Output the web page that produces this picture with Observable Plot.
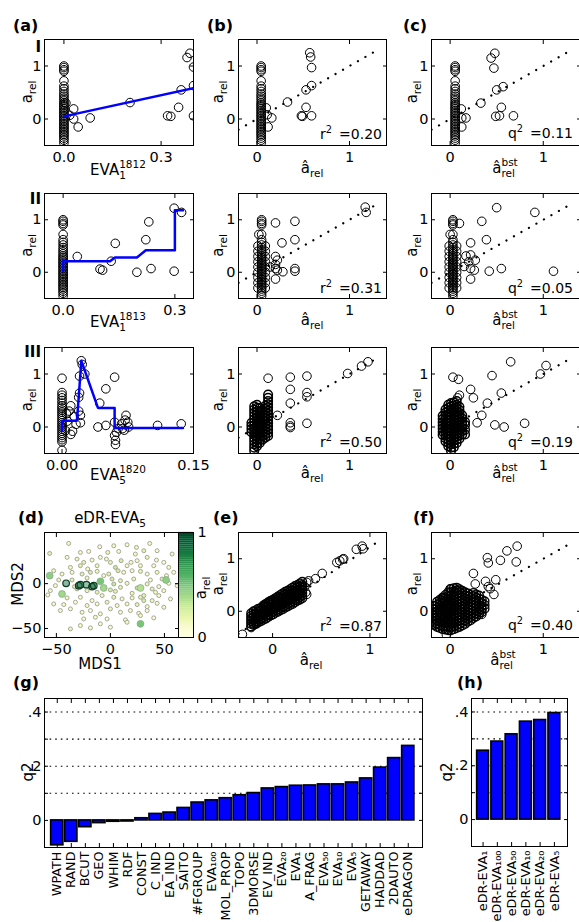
<!DOCTYPE html>
<html><head><meta charset="utf-8">
<script src="https://cdn.jsdelivr.net/npm/d3@7"></script>
<script src="https://cdn.jsdelivr.net/npm/@observablehq/plot@0.6"></script>
<style>
body{margin:0;background:#fff;}
#fig{position:relative;width:579px;height:922px;overflow:hidden;background:#fff;font-family:"DejaVu Sans",sans-serif;}
</style></head><body><div id="fig"></div>
<script>
// ---------------- DATA ----------------
const stackY = [1.0,0.97,0.93,0.9,0.72,0.62,0.57,0.52,0.47,0.43,0.39,0.35,0.31,0.28,0.25,0.22,0.19,0.16,0.13,0.1,0.07,0.04,0.01,-0.02,-0.05,-0.08,-0.11,-0.14,-0.17,-0.2,-0.23,-0.26,-0.29,-0.32,-0.36,-0.4,-0.45];
const stackX = {aI:0.0, aII:0.0, bI:0.045, cI:0.054, bII:0.05, cII:0.03};
const wideY = [0.5,0.4,0.3,0.2,0.1,0.0,-0.1,-0.2,-0.3];
// row I
const aIpts = [[0.006,0.30],[0.018,0.07],[0.03,0.19],[0.03,0.0],[0.044,-0.15],[0.081,0.02],[0.204,0.31],[0.32,0.06],[0.33,0.05],[0.362,0.55],[0.354,0.22],[0.38,1.16],[0.389,1.24],[0.40,0.98],[0.40,0.63],[0.40,0.06]];
const aIfit = [[0,0.05],[0.405,0.59]];
const bIpts = [[0.10,0.21],[0.11,0.08],[0.16,0.02],[0.12,-0.15],[0.33,0.32],[0.53,0.22],[0.48,0.06],[0.49,0.05],[0.59,0.06],[0.53,0.55],[0.59,0.63],[0.59,0.97],[0.57,1.25],[0.58,1.17]];
const cIpts = [[0.12,0.19],[0.125,0.02],[0.17,0.02],[0.125,-0.15],[0.33,0.3],[0.49,0.05],[0.53,0.06],[0.55,0.22],[0.68,0.06],[0.5,0.55],[0.57,0.61],[0.47,0.96],[0.44,1.15],[0.48,1.24]];
// row II
const aIIpts = [[0.038,0.30],[0.099,0.06],[0.106,0.04],[0.129,0.21],[0.14,0.55],[0.198,0.0],[0.222,0.62],[0.23,0.96],[0.236,0.07],[0.298,1.22],[0.318,1.14],[0.298,0.02]];
const aIIfit = [[0,0.02],[0,0.21],[0.126,0.21],[0.139,0.28],[0.198,0.28],[0.222,0.42],[0.30,0.42],[0.30,1.18],[0.322,1.18]];
const bIIpts = [[0.02,0.72],[0.14,0.1],[0.2,0.94],[0.27,0.56],[0.2,0.3],[0.22,0.23],[0.2,0.15],[0.2,0.07],[0.22,0.04],[0.2,-0.13],[0.28,0.01],[0.41,0.97],[0.41,0.62],[0.41,0.07],[0.41,0.02],[1.17,1.24],[1.18,1.14]];
const cIIpts = [[0.0,0.72],[0.1,0.93],[0.34,0.97],[0.5,1.23],[0.91,1.14],[0.39,0.62],[0.22,0.56],[0.17,0.31],[0.22,0.33],[0.27,0.23],[0.2,0.2],[0.22,0.07],[0.26,0.04],[0.15,0.11],[0.22,-0.13],[0.42,0.02],[0.55,0.07],[1.11,0.02]];
// row III
const aIIIpts = [[0,0.92],[0,0.65],[0,0.6],[0,0.55],[0,0.5],[0,0.45],[0,0.4],[0,0.36],[0,0.32],[0,0.28],[0,0.24],[0,0.2],[0,0.16],[0,0.12],[0,0.08],[0,0.04],[0,0.0],[0,-0.04],[0,-0.08],[0,-0.12],[0,-0.16],[0,-0.2],[0,-0.24],[0,-0.28],[0,-0.44],
 [0.008,0.3],[0.006,0.11],[0.012,-0.08],[0.01,-0.14],[0.014,0.2],[0.016,0.05],[0.019,0.3],[0.021,0.08],[0.004,-0.07],[0.021,0.22],[0.01,0.4],[0.005,0.25],
 [0.019,0.56],[0.02,0.64],[0.02,0.96],[0.022,1.25],[0.023,1.18],[0.026,1.0],[0.043,0.45],[0.05,0.72],[0.06,0.94],[0.041,0.0],[0.05,0.03],
 [0.06,0.09],[0.062,-0.1],[0.06,-0.16],[0.061,-0.25],[0.061,-0.33],[0.068,0.06],[0.072,0.13],[0.073,0.22],[0.075,0.09],[0.069,-0.03],[0.064,-0.03],[0.071,-0.06],[0.076,0.0],
 [0.109,0.03],[0.136,0.06]];
const aIIIfit = [[0,-0.07],[0,0.12],[0.017,0.12],[0.019,0.55],[0.022,1.25],[0.041,0.36],[0.06,0.36],[0.06,-0.02],[0.138,-0.02]];
const bIIIcols = [
 [-0.06,[-0.1,-0.04,0.02,0.08]],
 [-0.03,[-0.45,-0.39,-0.33,-0.27,-0.21,-0.15,-0.09,-0.03,0.03,0.09,0.15,0.21,0.27,0.33,0.39]],
 [0.0,[-0.36,-0.3,-0.24,-0.18,-0.12,-0.06,0.0,0.06,0.12,0.18,0.24,0.3,0.36,0.42]],
 [0.03,[-0.3,-0.24,-0.18,-0.12,-0.06,0.0,0.06,0.12,0.18,0.24,0.3,0.36]],
 [0.06,[-0.24,-0.18,-0.12,-0.06,0.0,0.06,0.12,0.18,0.24,0.3]],
 [0.09,[-0.2,-0.14,-0.08,-0.02,0.04,0.1,0.16,0.22,0.28,0.34,0.4]],
 [0.12,[-0.17,-0.11,-0.05,0.01,0.07,0.13,0.19,0.25,0.31,0.37,0.43,0.49,0.55,0.61]]];
const bIIIpts = [[0.12,0.92],[0.22,0.22],[0.36,0.94],[0.36,0.71],[0.36,0.45],[0.36,0.08],[0.36,0.02],[0.36,-0.01],[0.54,0.96],[0.54,0.65],[0.54,0.57],[0.54,0.07],[0.98,1.01],[1.13,1.15],[1.2,1.23]];
const cIIIcols = [
 [-0.08,[-0.15,-0.09,-0.03,0.03,0.09,0.15,0.21]],
 [-0.05,[-0.27,-0.21,-0.15,-0.09,-0.03,0.03,0.09,0.15,0.21,0.27,0.33]],
 [-0.02,[-0.36,-0.3,-0.24,-0.18,-0.12,-0.06,0.0,0.06,0.12,0.18,0.24,0.3,0.36,0.42]],
 [0.01,[-0.45,-0.39,-0.33,-0.27,-0.21,-0.15,-0.09,-0.03,0.03,0.09,0.15,0.21,0.27,0.33,0.39,0.45]],
 [0.04,[-0.38,-0.32,-0.26,-0.2,-0.14,-0.08,-0.02,0.04,0.1,0.16,0.22,0.28,0.34,0.4,0.46]],
 [0.07,[-0.3,-0.24,-0.18,-0.12,-0.06,0.0,0.06,0.12,0.18,0.24,0.3,0.36,0.42,0.49]],
 [0.10,[-0.22,-0.16,-0.1,-0.04,0.02,0.08,0.14,0.2,0.26,0.32,0.38]],
 [0.13,[-0.14,-0.08,-0.02,0.04,0.1,0.16,0.22]],
 [0.16,[-0.14,-0.05,0.04,0.1]]];
const cIIIpts = [[0.03,0.94],[0.09,0.9],[0.1,0.6],[0.08,0.55],[0.22,0.71],[0.25,0.55],[0.34,0.22],[0.29,0.08],[0.4,0.45],[0.45,0.97],[0.55,0.64],[0.48,0.04],[0.58,0.0],[0.8,0.07],[0.65,1.23],[0.97,1.0],[1.03,1.16]];
const refLine = [-0.2, 1.3];
// panel d: MDS1, MDS2, a_rel
const dLow = [
[-38.6,44.8,0.1],[-9.9,41.1,0.05],[3.1,42.2,0.12],[15.4,43.3,0.08],[24.1,40.4,0.15],[36.4,44.8,0.1],
[-56.2,33.7,0.2],[-27.8,34.8,0.1],[-20.1,35.9,0.05],[-2.5,34.8,0.15],[7.7,35.9,0.08],[23.1,33.0,0.12],[30.9,36.7,0.2],[43.2,36.7,0.06],[57.1,33.0,0.1],
[-40.1,29.3,0.08],[-30.9,27.4,0.15],[-24.7,23.7,0.2],[-17.0,26.3,0.1],[-9.3,29.3,0.05],[-3.7,27.4,0.12],[0,23.7,0.18],[9.9,25.6,0.25],[19.1,23.7,0.1],[24.7,25.6,0.08],[34.0,29.3,0.15],[42.6,26.3,0.1],[49.4,23.7,0.05],
[-37.0,18.1,0.12],[-27.8,20.0,0.2],[-21.0,16.3,0.08],[-12.3,20.0,0.15],[4.6,18.1,0.3],[15.4,20.0,0.1],[27.8,20.0,0.12],[40.1,20.0,0.06],[54.0,18.1,0.1],
[-52.5,14.4,0.15],[-44.8,10.7,0.1],[-35.5,12.6,0.08],[-26.2,10.7,0.2],[-18.5,12.6,0.25],[-12.3,13.7,0.15],[-6.2,8.9,0.1],[-1.5,10.7,0.2],[7.1,14.4,0.25],[12.3,12.6,0.12],[20.1,14.4,0.1],[27.8,13.7,0.18],[34.0,10.7,0.08],[43.2,12.6,0.12],[51.9,8.9,0.1],[58.6,12.6,0.05],
[-47.8,4.1,0.15],[-35.5,4.1,0.2],[-21.6,6.3,0.12],[1.5,5.2,0.25],[9.3,3.3,0.2],[21.6,5.2,0.15],[37.0,4.1,0.1],[47.8,5.2,0.2],
[-50.9,-2.2,0.1],[-33.3,-3.3,0.25],[3.1,-0.4,0.3],[9.3,-4.1,0.2],[15.4,0.4,0.12],[24.7,-4.8,0.25],[34.0,-0.4,0.15],[38.6,-5.9,0.2],[44.8,-3.3,0.1],[54.0,0.4,0.08],[61.7,-2.2,0.1],
[-55.6,-7.8,0.12],[-30.9,-5.9,0.2],[-21.6,-7.8,0.15],[-12.3,-9.6,0.2],[0,-7.0,0.25],[4.6,-8.5,0.2],[20.1,-10.7,0.15],[30.9,-13.3,0.2],[41.7,-9.6,0.12],[49.4,-7.8,0.1],
[-58.0,-12.6,0.08],[-40.1,-15.9,0.12],[-27.8,-15.2,0.1],[-17.0,-18.9,0.08],[-7.7,-13.3,0.15],[3.1,-15.2,0.2],[10.8,-17.0,0.1],[20.1,-15.9,0.12],[27.8,-15.2,0.2],[30.9,-18.9,0.25],[38.6,-18.9,0.15],[44.8,-13.3,0.1],[55.6,-17.0,0.08],
[-52.5,-22.6,0.1],[-43.2,-23.3,0.12],[-32.4,-20.7,0.05],[-21.6,-24.4,0.1],[-12.3,-22.6,0.08],[-3.1,-20.7,0.15],[6.2,-24.4,0.1],[15.4,-22.6,0.12],[24.7,-23.3,0.2],[34.0,-25.6,0.1],[43.2,-21.9,0.08],
[-46.3,-30.0,0.1],[-37.0,-28.1,0.08],[-26.2,-31.9,0.12],[-18.5,-30.0,0.05],[-9.3,-33.7,0.1],[0,-28.1,0.15],[9.3,-31.9,0.08],[18.5,-30.0,0.1],[26.2,-33.0,0.12],[34.0,-30.0,0.06],[49.4,-26.3,0.1],
[-24.7,-39.3,0.08],[-13.9,-37.4,0.1],[-3.1,-39.3,0.05],[13.9,-40.4,0.1],[27.8,-35.6,0.12],[40.1,-38.1,0.06],
[-27.8,-46.7,0.1],[-9.3,-44.8,0.08],[0,-48.5,0.05],[15.4,-43.0,0.1],[-37.0,-50.4,0.15],[-18.5,-49.3,0.08]];
const dMid = [[-56.2,8.9,0.45],[-9.3,2.6,0.5],[51.5,4.1,0.45],[-6.2,-4.8,0.4],[27.8,-4.8,0.35],[-44.8,-11.5,0.4],[27.8,-44.8,0.5]];
const dHigh = [[-41.0,0.4,0.9],[-29.3,-2.2,0.95],[-27.8,-1.1,0.85],[-22.2,-1.1,0.8],[-17.0,-3.3,0.95],[-15.4,-2.2,0.9]];
// panel e
const eCols = [
 [-0.22,[-0.29,-0.24,-0.19,-0.14,-0.09,-0.04]],
 [-0.195,[-0.26,-0.21,-0.16,-0.11,-0.06,0.0]],
 [-0.17,[-0.24,-0.19,-0.14,-0.09,-0.04,0.02]],
 [-0.145,[-0.21,-0.16,-0.11,-0.06,-0.01,0.05]],
 [-0.12,[-0.19,-0.14,-0.09,-0.04,0.01,0.06]],
 [-0.095,[-0.16,-0.11,-0.06,-0.01,0.04,0.09,0.11]],
 [-0.07,[-0.14,-0.09,-0.04,0.01,0.06,0.11,0.14]],
 [-0.045,[-0.11,-0.06,-0.01,0.04,0.09,0.14,0.17]],
 [-0.02,[-0.08,-0.03,0.02,0.07,0.12,0.17,0.2]],
 [0.005,[-0.06,-0.01,0.04,0.09,0.14,0.19,0.22]],
 [0.03,[-0.03,0.02,0.07,0.12,0.17,0.22,0.25]],
 [0.055,[-0.01,0.04,0.09,0.14,0.19,0.24,0.28]],
 [0.08,[0.02,0.07,0.12,0.17,0.22,0.27,0.31]],
 [0.105,[0.04,0.09,0.14,0.19,0.24,0.29,0.34]],
 [0.13,[0.07,0.12,0.17,0.22,0.27,0.32,0.37]],
 [0.155,[0.09,0.14,0.19,0.24,0.29,0.34,0.39]],
 [0.18,[0.12,0.17,0.22,0.27,0.32,0.37,0.42]],
 [0.205,[0.14,0.19,0.24,0.29,0.34,0.39,0.45]],
 [0.23,[0.17,0.22,0.27,0.32,0.37,0.42,0.48]],
 [0.255,[0.2,0.25,0.3,0.35,0.4,0.45,0.5]],
 [0.28,[0.22,0.27,0.32,0.37,0.42,0.47,0.53]],
 [0.305,[0.25,0.3,0.35,0.4,0.45,0.5,0.56]]];
const ePts = [[-0.31,-0.44],[-0.22,-0.31],[-0.19,-0.25],[-0.16,-0.22],[0.33,0.47],[0.35,0.55],[0.37,0.58],[0.34,0.36],[0.35,0.32],
 [0.44,0.62],[0.51,0.72],[0.66,0.93],[0.69,0.96],[0.72,0.99],[0.73,1.0],[0.86,1.18],[0.92,1.24],[0.93,1.19]];
const eFit = [[-0.35,-0.43],[1.07,1.31]];
// panel f
const fCols = [
 [-0.17,[-0.26,-0.2,-0.14,-0.08,-0.02,0.04,0.1]],
 [-0.14,[-0.3,-0.24,-0.18,-0.12,-0.06,0.0,0.06,0.12,0.18]],
 [-0.11,[-0.32,-0.26,-0.2,-0.14,-0.08,-0.02,0.04,0.1,0.16,0.22]],
 [-0.08,[-0.34,-0.28,-0.22,-0.16,-0.1,-0.04,0.02,0.08,0.14,0.2,0.26]],
 [-0.05,[-0.35,-0.29,-0.23,-0.17,-0.11,-0.05,0.01,0.07,0.13,0.19,0.25,0.31]],
 [-0.02,[-0.36,-0.3,-0.24,-0.18,-0.12,-0.06,0.0,0.06,0.12,0.18,0.24,0.3,0.36]],
 [0.01,[-0.36,-0.3,-0.24,-0.18,-0.12,-0.06,0.0,0.06,0.12,0.18,0.24,0.3,0.36,0.42]],
 [0.04,[-0.34,-0.28,-0.22,-0.16,-0.1,-0.04,0.02,0.08,0.14,0.2,0.26,0.32,0.38,0.44]],
 [0.07,[-0.32,-0.26,-0.2,-0.14,-0.08,-0.02,0.04,0.1,0.16,0.22,0.28,0.34,0.4,0.45]],
 [0.10,[-0.3,-0.24,-0.18,-0.12,-0.06,0.0,0.06,0.12,0.18,0.24,0.3,0.36,0.42]],
 [0.13,[-0.27,-0.21,-0.15,-0.09,-0.03,0.03,0.09,0.15,0.21,0.27,0.33,0.39]],
 [0.16,[-0.24,-0.18,-0.12,-0.06,0.0,0.06,0.12,0.18,0.24,0.3,0.36]],
 [0.19,[-0.2,-0.14,-0.08,-0.02,0.04,0.1,0.16,0.22,0.28,0.34]],
 [0.22,[-0.17,-0.11,-0.05,0.01,0.07,0.13,0.19,0.25,0.31]],
 [0.25,[-0.13,-0.07,-0.01,0.05,0.11,0.17,0.23,0.29,0.35]],
 [0.28,[-0.1,-0.04,0.02,0.08,0.14,0.2,0.26,0.32]],
 [0.31,[-0.06,0.0,0.06,0.12,0.18,0.24,0.3]],
 [0.34,[-0.02,0.04,0.1,0.16,0.22]],
 [0.37,[0.05,0.12,0.19]]];
const fPts = [[-0.04,-0.45],[-0.16,-0.26],[-0.17,0.1],[-0.07,0.26],[0,0.43],[0.1,0.4],[0.25,0.72],[0.27,0.52],[0.38,0.57],[0.41,0.47],[0.43,0.43],
 [0.4,1.02],[0.41,0.92],[0.49,0.6],[0.47,0.32],[0.54,0.97],[0.61,1.15],[0.71,0.94],[0.72,1.24],[0.32,-0.02],[0.34,-0.06]];
// panel g / h
const gNames = ["WPATH","RAND","BCUT","GEO","WHIM","RDF","CONST","C_IND","EA_IND","SAITO","#FGROUP","EVA₁₀₀","MOL_PROP","TOPO","3DMORSE","EV_IND","EVA₂₀","EVA₁","A_FRAG","EVA₅₀","EVA₁₀","EVA₅","GETAWAY","HADDAD","2DAUTO","eDRAGON"];
const gQ2 = [-0.092,-0.079,-0.025,-0.01,-0.005,-0.004,0.008,0.024,0.029,0.046,0.066,0.074,0.082,0.093,0.101,0.118,0.123,0.128,0.129,0.133,0.133,0.14,0.155,0.195,0.23,0.275];
const hNames = ["eDR-EVA₁","eDR-EVA₁₀₀","eDR-EVA₅₀","eDR-EVA₁₀","eDR-EVA₂₀","eDR-EVA₅"];
const hQ2 = [0.256,0.29,0.317,0.364,0.37,0.396];
const q2Ticks = [0,0.1,0.2,0.3,0.4];
const q2LabelTicks = [0,0.2,0.4];
const q2Labels = ["0",".2",".4"];
const q2Grid = [0.1,0.2,0.3,0.4];

// ---------------- DRAWING ----------------
const FONT = "DejaVu Sans";
const FS = 14.5;
const fig = document.getElementById("fig");
const ML = 50, MR = 12, MT = 10, MB = 40;
function place(svg, left, top) {
  svg.style.position = "absolute"; svg.style.left = left + "px"; svg.style.top = top + "px";
  svg.style.overflow = "visible"; svg.style.background = "transparent"; svg.style.maxWidth = "none";
  fig.appendChild(svg);
}
const blank = () => "";
function axes(xt, yt, xf, yf) {
  return [
    Plot.frame({stroke: "black", strokeWidth: 1}),
    Plot.axisX(xt, {anchor: "bottom", tickSize: -4, tickFormat: blank, label: null}),
    Plot.axisX(xt, {anchor: "top", tickSize: -4, tickFormat: blank, label: null}),
    Plot.axisY(yt, {anchor: "left", tickSize: -4, tickFormat: blank, label: null}),
    Plot.axisY(yt, {anchor: "right", tickSize: -4, tickFormat: blank, label: null}),
    Plot.text(xt, {x: d => d, frameAnchor: "bottom", lineAnchor: "top", dy: 6, text: xf, fontSize: FS, fontFamily: FONT, fill: "black"}),
    Plot.text(yt, {y: d => d, frameAnchor: "left", textAnchor: "end", lineAnchor: "middle", dx: -3, text: yf, fontSize: FS, fontFamily: FONT, fill: "black"})
  ];
}
function panel(o) {
  const svg = Plot.plot({
    width: o.fw + ML + MR, height: o.fh + MT + MB,
    marginLeft: ML, marginRight: MR, marginTop: MT, marginBottom: MB,
    style: `font-family:'${FONT}';color:black;background:transparent;overflow:visible;`,
    x: o.x, y: o.y, color: o.color,
    marks: [...o.marks, ...axes(o.xt, o.yt, o.xf, o.yf)]
  });
  place(svg, o.fx - ML, o.fy - MT);
  return svg;
}
const circ = (data, sw = 1) => Plot.dot(data, {x: d => d[0], y: d => d[1], r: 4.3, stroke: "black", strokeWidth: sw, fill: "none", clip: true});
const col = (x, ys) => ys.map(y => [x, y]);
const cols = (c) => c.flatMap(([x, ys]) => col(x, ys));
const fitLine = (data) => Plot.line(data, {x: d => d[0], y: d => d[1], stroke: "#0000ff", strokeWidth: 2.5, clip: true});
const dotted = (data) => Plot.line(data, {x: d => d[0], y: d => d[1], stroke: "black", strokeWidth: 2.2, strokeDasharray: "0.1,8.5", strokeLinecap: "round", clip: true});
const refPts = refLine.map(v => [v, v]);
const fmt1 = d => d.toFixed(1), fmt2 = d => d.toFixed(2), fmtI = d => String(d);
const yA = {domain: [-0.5, 1.5]};
const xBC = {domain: [-0.2, 1.4]};

const rows = [{fy: 39, fh: 106}, {fy: 193, fh: 105}, {fy: 347, fh: 106}];
const colA = {fx: 44, fw: 149}, colB = {fx: 238, fw: 148}, colC = {fx: 431, fw: 149};

// Row I
panel({...colA, ...rows[0], x: {domain: [-0.06, 0.4]}, y: yA, xt: [0, 0.3], yt: [0, 1], xf: fmt1, yf: fmtI,
  marks: [circ(col(stackX.aI, stackY)), circ(aIpts), fitLine(aIfit)]});
panel({...colB, ...rows[0], x: xBC, y: yA, xt: [0, 1], yt: [0, 1], xf: fmtI, yf: fmtI,
  marks: [dotted(refPts), circ(col(stackX.bI, stackY)), circ(bIpts)]});
panel({...colC, ...rows[0], x: xBC, y: yA, xt: [0, 1], yt: [0, 1], xf: fmtI, yf: fmtI,
  marks: [dotted(refPts), circ(col(stackX.cI, stackY)), circ(cIpts)]});
// Row II
panel({...colA, ...rows[1], x: {domain: [-0.05, 0.35]}, y: yA, xt: [0, 0.3], yt: [0, 1], xf: fmt1, yf: fmtI,
  marks: [circ(col(stackX.aII, stackY)), circ(aIIpts), fitLine(aIIfit)]});
panel({...colB, ...rows[1], x: xBC, y: yA, xt: [0, 1], yt: [0, 1], xf: fmtI, yf: fmtI,
  marks: [dotted(refPts), circ(col(stackX.bII, stackY)), circ(col(0.01, wideY)), circ(col(0.09, wideY)), circ(bIIpts)]});
panel({...colC, ...rows[1], x: xBC, y: yA, xt: [0, 1], yt: [0, 1], xf: fmtI, yf: fmtI,
  marks: [dotted(refPts), circ(col(stackX.cII, stackY)), circ(col(-0.01, wideY)), circ(col(0.07, wideY)), circ(cIIpts)]});
// Row III
panel({...colA, ...rows[2], x: {domain: [-0.02, 0.15]}, y: yA, xt: [0, 0.15], yt: [0, 1], xf: fmt2, yf: fmtI,
  marks: [circ(aIIIpts), fitLine(aIIIfit)]});
panel({...colB, ...rows[2], x: xBC, y: yA, xt: [0, 1], yt: [0, 1], xf: fmtI, yf: fmtI,
  marks: [dotted(refPts), circ(cols(bIIIcols), 1.5), circ(bIIIpts)]});
panel({...colC, ...rows[2], x: xBC, y: yA, xt: [0, 1], yt: [0, 1], xf: fmtI, yf: fmtI,
  marks: [dotted(refPts), circ(cols(cIIIcols), 1.5), circ(cIIIpts)]});

// Row d/e/f
const minusFmt = d => d < 0 ? "\u2212" + (-d) : String(d);
panel({fx: 44, fw: 134, fy: 532, fh: 105, x: {domain: [-61, 63]}, y: {domain: [-60, 57]},
  color: {type: "linear", scheme: "ylgn", domain: [0, 1]},
  xt: [-50, 0, 50], yt: [-50, 0], xf: minusFmt, yf: minusFmt,
  marks: [
    Plot.dot(dLow, {x: d => d[0], y: d => d[1], fill: d => d[2], r: 2.0, stroke: "#9c9c94", strokeWidth: 0.9}),
    Plot.dot(dMid, {x: d => d[0], y: d => d[1], fill: d => d[2], r: 3.4, stroke: "#86ad86", strokeWidth: 0.8}),
    Plot.dot(dHigh, {x: d => d[0], y: d => d[1], fill: d => d[2], fillOpacity: 0.45, r: 3.3, stroke: "#0b3d1e", strokeWidth: 1.2})
  ]});
// colorbar
const cbStops = d3.range(0, 1, 0.02);
const cbTicks = [0, 1];
{
  const svg = Plot.plot({
    width: 15 + 20 + 30, height: 105 + 20,
    marginLeft: 20, marginRight: 30, marginTop: 10, marginBottom: 10,
    style: `font-family:'${FONT}';color:black;background:transparent;overflow:visible;`,
    x: {domain: [0, 1], axis: null}, y: {domain: [0, 1], axis: null},
    color: {type: "linear", scheme: "ylgn", domain: [0, 1]},
    marks: [
      Plot.rect(cbStops, {y1: d => d, y2: d => d + 0.021, fill: d => d + 0.01}),
      Plot.frame({stroke: "black", strokeWidth: 1}),
      Plot.text(cbTicks, {y: d => d, frameAnchor: "right", textAnchor: "start", lineAnchor: "middle", dx: 4, text: fmtI, fontSize: FS, fontFamily: FONT, fill: "black"})
    ]
  });
  place(svg, 178 - 20, 532 - 10);
}
panel({fx: 238, fw: 148, fy: 532, fh: 105, x: {domain: [-0.35, 1.17]}, y: yA, xt: [0, 1], yt: [0, 1], xf: fmtI, yf: fmtI,
  marks: [dotted(eFit), circ(cols(eCols), 1.4), circ(ePts)]});
panel({fx: 431, fw: 149, fy: 532, fh: 105, x: xBC, y: yA, xt: [0, 1], yt: [0, 1], xf: fmtI, yf: fmtI,
  marks: [dotted(refPts), circ(cols(fCols), 1.4), circ(fPts)]});

// bar panels
function barPanel(names, vals, fx, fy, fw, fh, band) {
  const data = names.map((n, i) => ({n, v: vals[i]}));
  const svg = Plot.plot({
    width: fw + ML + MR, height: fh + MT + 80,
    marginLeft: ML, marginRight: MR, marginTop: MT, marginBottom: 80,
    style: `font-family:'${FONT}';color:black;background:transparent;overflow:visible;`,
    x: {type: "band", domain: names, round: false, ...band},
    y: {domain: [-0.1, 0.45]},
    marks: [
      Plot.ruleY(q2Grid, {stroke: "black", strokeWidth: 1.1, strokeDasharray: "1.6,4"}),
      Plot.barY(data, {x: "n", y: "v", fill: "#0000ff", stroke: "black", strokeWidth: 1.6}),
      Plot.frame({stroke: "black", strokeWidth: 1}),
      Plot.axisX({anchor: "bottom", tickSize: -4, tickFormat: blank, label: null}),
      Plot.axisX({anchor: "top", tickSize: -4, tickFormat: blank, label: null}),
      Plot.axisY(q2Ticks, {anchor: "left", tickSize: -4, tickFormat: blank, label: null}),
      Plot.axisY(q2Ticks, {anchor: "right", tickSize: -4, tickFormat: blank, label: null}),
      Plot.text(names, {x: d => d, frameAnchor: "bottom", rotate: -90, textAnchor: "end", lineAnchor: "middle", dy: 4, text: d => d, fontSize: 12.8, fontFamily: FONT, fill: "black"}),
      Plot.text(q2LabelTicks, {y: d => d, frameAnchor: "left", textAnchor: "end", lineAnchor: "middle", dx: -3, text: (d, i) => q2Labels[i], fontSize: FS, fontFamily: FONT, fill: "black"})
    ]
  });
  place(svg, fx - ML, fy - MT);
}
barPanel(gNames, gQ2, 44, 698, 378, 149, {paddingInner: 0.13, paddingOuter: 0.527, align: 0.45});
barPanel(hNames, hQ2, 471, 698, 96, 148, {paddingInner: 0.17, paddingOuter: 0.45, align: 0.44});

// ---------------- TEXT OVERLAY ----------------
const ov = d3.select(fig).append("svg").attr("width", 579).attr("height", 922)
  .style("position", "absolute").style("left", "0px").style("top", "0px").style("overflow", "visible");
function label(x, y, parts, o = {}) {
  const size = o.size || 15;
  const g = ov.append("g").attr("transform", `translate(${x},${y}) rotate(${o.rotate || 0})`);
  const t = g.append("text").attr("font-family", FONT).attr("font-size", size)
    .attr("font-weight", o.weight || "normal").attr("text-anchor", o.anchor || "middle").attr("fill", "black");
  let shift = 0;
  for (const p of parts) {
    if (typeof p === "string" || p.t != null) {
      const s = typeof p === "string" ? p : p.t;
      const ts = t.append("tspan").attr("dy", -shift).text(s);
      if (typeof p !== "string" && p.dx) ts.attr("dx", p.dx);
      shift = 0;
    } else if (p.sub != null && p.sup != null) {
      const a = t.append("tspan").attr("font-size", size * 0.7).attr("dy", size * 0.28 - shift).text(p.sub);
      const w = a.node().getComputedTextLength();
      t.append("tspan").attr("font-size", size * 0.7).attr("dx", -w).attr("dy", -size * 0.72).text(p.sup);
      shift = size * 0.28 - size * 0.72;
    } else if (p.sub != null) {
      t.append("tspan").attr("font-size", size * 0.7).attr("dy", size * 0.28 - shift).text(p.sub);
      shift = size * 0.28;
    } else if (p.sup != null) {
      t.append("tspan").attr("font-size", size * 0.7).attr("dy", -size * 0.42 - shift).text(p.sup);
      shift = -size * 0.42;
    }
  }
}
const bold = {size: 16, weight: "bold", anchor: "start"};
label(13, 31, ["(a)"], bold); label(207, 31, ["(b)"], bold); label(403, 31, ["(c)"], bold);
label(18, 523, ["(d)"], bold); label(213, 523, ["(e)"], bold); label(413, 523, ["(f)"], bold);
label(13, 688, ["(g)"], bold); label(457, 688, ["(h)"], bold);
const rn = {size: 15, weight: "bold", anchor: "end"};
label(41, 52, ["I"], rn); label(41, 204, ["II"], rn); label(41, 357, ["III"], rn);
const rowBase = [175, 327, 480], rowMid = [92, 245.5, 400];
const supA = ["1812", "1813", "1820"], subA = ["1", "1", "5"];
for (let i = 0; i < 3; i++) {
  label(118, rowBase[i], ["EVA", {sub: subA[i], sup: supA[i]}]);
  label(312, rowBase[i] - 2, ["â", {sub: "rel"}]);
  label(505, rowBase[i] - 2, ["â", {sub: "rel", sup: "bst"}]);
  label(32, rowMid[i], ["a", {sub: "rel"}], {rotate: -90});
  label(223, rowMid[i], ["a", {sub: "rel"}], {rotate: -90});
  label(417, rowMid[i], ["a", {sub: "rel"}], {rotate: -90});
}
const st = {size: 14, anchor: "end"};
label(382, 139, ["r", {sup: "2"}, {t: "=0.20", dx: 7}], st);
label(573, 138, ["q", {sup: "2"}, {t: "=0.11", dx: 7}], st);
label(382, 293, ["r", {sup: "2"}, {t: "=0.31", dx: 7}], st);
label(573, 293, ["q", {sup: "2"}, {t: "=0.05", dx: 7}], st);
label(382, 447, ["r", {sup: "2"}, {t: "=0.50", dx: 7}], st);
label(573, 447, ["q", {sup: "2"}, {t: "=0.19", dx: 7}], st);
label(382, 631, ["r", {sup: "2"}, {t: "=0.87", dx: 7}], st);
label(573, 630, ["q", {sup: "2"}, {t: "=0.40", dx: 7}], st);
label(110, 523, ["eDR-EVA", {sub: "5"}]);
label(100, 669, ["MDS1"]);
label(23, 584, ["MDS2"], {rotate: -90});
label(206, 588, ["a", {sub: "rel"}], {rotate: -90});
label(311, 665, ["â", {sub: "rel"}]);
label(503, 665, ["â", {sub: "rel", sup: "bst"}]);
label(223, 584, ["a", {sub: "rel"}], {rotate: -90});
label(417, 584, ["a", {sub: "rel"}], {rotate: -90});
label(33, 772, ["q2"], {rotate: -90});
label(452, 772, ["q2"], {rotate: -90});
</script></body></html>
